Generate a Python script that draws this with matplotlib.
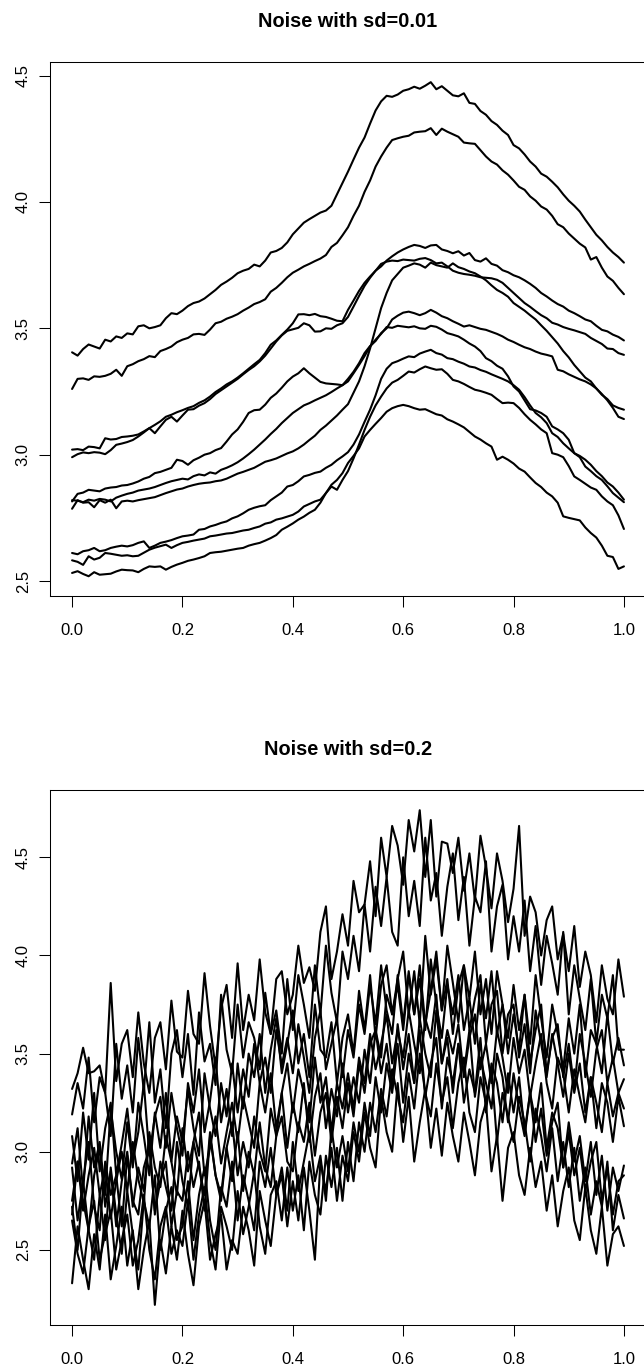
import numpy as np
import matplotlib

matplotlib.use('Agg')
import matplotlib.pyplot as plt

plt.rcParams['font.family'] = ['Liberation Sans', 'DejaVu Sans']

# grid: 101 points on [0, 1]
x_grid = np.arange(101) / 100

x_ticks = [0.0, 0.2, 0.4, 0.6, 0.8, 1.0]
x_labels = ['0.0', '0.2', '0.4', '0.6', '0.8', '1.0']
y_ticks = [2.5, 3.0, 3.5, 4.0, 4.5]
y_labels = ['2.5', '3.0', '3.5', '4.0', '4.5']

titles = ['Noise with sd=0.01', 'Noise with sd=0.2']

# ---- panel 1: sd=0.01 ----
low_a = [3.405, 3.392, 3.418, 3.436, 3.428, 3.420, 3.455, 3.448, 3.468, 3.462,
         3.480, 3.476, 3.508, 3.512, 3.500, 3.505, 3.512, 3.540, 3.560, 3.556,
         3.570, 3.588, 3.600, 3.606, 3.618, 3.635, 3.652, 3.672, 3.685, 3.700,
         3.718, 3.728, 3.735, 3.752, 3.745, 3.768, 3.800, 3.806, 3.818, 3.840,
         3.872, 3.895, 3.918, 3.932, 3.945, 3.958, 3.966, 3.985, 4.030, 4.075,
         4.120, 4.168, 4.215, 4.255, 4.310, 4.362, 4.398, 4.420, 4.416, 4.425,
         4.440, 4.446, 4.456, 4.448, 4.460, 4.474, 4.446, 4.458, 4.440, 4.422,
         4.418, 4.430, 4.392, 4.388, 4.360, 4.345, 4.320, 4.305, 4.282, 4.265,
         4.225, 4.212, 4.188, 4.160, 4.140, 4.112, 4.100, 4.080, 4.058, 4.030,
         4.005, 3.985, 3.962, 3.930, 3.900, 3.870, 3.848, 3.822, 3.800, 3.782,
         3.760]
low_b = [3.260, 3.300, 3.302, 3.296, 3.310, 3.308, 3.312, 3.320, 3.336, 3.312,
         3.350, 3.358, 3.370, 3.378, 3.390, 3.386, 3.410, 3.418, 3.428, 3.445,
         3.455, 3.462, 3.476, 3.478, 3.474, 3.495, 3.520, 3.526, 3.538, 3.546,
         3.556, 3.570, 3.582, 3.596, 3.604, 3.615, 3.645, 3.660, 3.680, 3.702,
         3.720, 3.732, 3.745, 3.755, 3.766, 3.776, 3.790, 3.822, 3.838, 3.868,
         3.900, 3.945, 3.985, 4.040, 4.085, 4.140, 4.180, 4.215, 4.245, 4.252,
         4.258, 4.262, 4.275, 4.278, 4.280, 4.292, 4.265, 4.290, 4.278, 4.268,
         4.258, 4.235, 4.232, 4.230, 4.205, 4.180, 4.160, 4.148, 4.125, 4.108,
         4.085, 4.060, 4.048, 4.022, 4.005, 3.982, 3.970, 3.945, 3.912, 3.900,
         3.875, 3.855, 3.835, 3.820, 3.772, 3.782, 3.740, 3.705, 3.688, 3.660,
         3.635]
low_c = [3.020, 3.022, 3.018, 3.032, 3.030, 3.025, 3.065, 3.060, 3.062, 3.070,
         3.072, 3.075, 3.080, 3.092, 3.105, 3.118, 3.132, 3.150, 3.158, 3.168,
         3.176, 3.185, 3.192, 3.205, 3.215, 3.230, 3.248, 3.262, 3.278, 3.290,
         3.305, 3.322, 3.340, 3.358, 3.375, 3.402, 3.435, 3.452, 3.474, 3.495,
         3.520, 3.555, 3.556, 3.552, 3.557, 3.548, 3.545, 3.538, 3.530, 3.528,
         3.573, 3.610, 3.648, 3.680, 3.705, 3.728, 3.745, 3.768, 3.785, 3.800,
         3.812, 3.822, 3.830, 3.826, 3.818, 3.828, 3.830, 3.812, 3.806, 3.797,
         3.805, 3.788, 3.798, 3.770, 3.764, 3.777, 3.755, 3.748, 3.730, 3.722,
         3.710, 3.702, 3.690, 3.676, 3.660, 3.640, 3.626, 3.610, 3.596, 3.586,
         3.570, 3.560, 3.548, 3.535, 3.528, 3.510, 3.494, 3.488, 3.475, 3.466,
         3.452]
low_d = [2.990, 3.002, 3.009, 3.006, 3.010, 3.008, 3.002, 3.018, 3.039, 3.044,
         3.050, 3.058, 3.072, 3.088, 3.105, 3.085, 3.112, 3.138, 3.150, 3.131,
         3.155, 3.178, 3.180, 3.194, 3.204, 3.220, 3.240, 3.255, 3.270, 3.285,
         3.300, 3.318, 3.335, 3.350, 3.369, 3.392, 3.420, 3.448, 3.472, 3.490,
         3.496, 3.502, 3.520, 3.512, 3.487, 3.488, 3.500, 3.498, 3.512, 3.520,
         3.545, 3.586, 3.628, 3.668, 3.700, 3.728, 3.755, 3.764, 3.768, 3.766,
         3.772, 3.770, 3.768, 3.775, 3.778, 3.770, 3.757, 3.760, 3.745, 3.728,
         3.720, 3.715, 3.712, 3.708, 3.702, 3.700, 3.698, 3.692, 3.680, 3.660,
         3.640, 3.620, 3.600, 3.585, 3.568, 3.552, 3.540, 3.522, 3.515, 3.505,
         3.498, 3.492, 3.485, 3.478, 3.462, 3.450, 3.438, 3.420, 3.418, 3.402,
         3.395]
low_e = [2.815, 2.845, 2.850, 2.861, 2.858, 2.855, 2.866, 2.870, 2.872, 2.878,
         2.880, 2.886, 2.894, 2.905, 2.912, 2.927, 2.932, 2.940, 2.948, 2.980,
         2.975, 2.960, 2.978, 2.988, 3.000, 3.006, 3.018, 3.026, 3.052, 3.080,
         3.100, 3.130, 3.165, 3.176, 3.178, 3.198, 3.225, 3.242, 3.265, 3.290,
         3.309, 3.322, 3.342, 3.322, 3.305, 3.288, 3.282, 3.280, 3.278, 3.275,
         3.300, 3.328, 3.362, 3.402, 3.430, 3.450, 3.481, 3.500, 3.535, 3.550,
         3.562, 3.566, 3.560, 3.552, 3.560, 3.573, 3.562, 3.548, 3.540, 3.528,
         3.518, 3.507, 3.512, 3.505, 3.498, 3.494, 3.486, 3.478, 3.468, 3.455,
         3.446, 3.435, 3.425, 3.418, 3.408, 3.400, 3.395, 3.389, 3.336, 3.330,
         3.318, 3.308, 3.298, 3.290, 3.278, 3.262, 3.237, 3.220, 3.195, 3.185,
         3.178]
low_f = [2.820, 2.818, 2.812, 2.822, 2.818, 2.825, 2.822, 2.815, 2.830, 2.838,
         2.845, 2.850, 2.858, 2.862, 2.866, 2.872, 2.880, 2.888, 2.895, 2.900,
         2.905, 2.902, 2.915, 2.922, 2.918, 2.930, 2.925, 2.940, 2.948, 2.958,
         2.970, 2.985, 3.002, 3.020, 3.040, 3.060, 3.082, 3.102, 3.125, 3.145,
         3.165, 3.180, 3.195, 3.204, 3.215, 3.225, 3.235, 3.248, 3.262, 3.275,
         3.290, 3.322, 3.355, 3.390, 3.428, 3.455, 3.478, 3.505, 3.502, 3.510,
         3.507, 3.504, 3.508, 3.500, 3.498, 3.510, 3.506, 3.495, 3.481, 3.475,
         3.468, 3.455, 3.440, 3.428, 3.410, 3.382, 3.370, 3.352, 3.340, 3.310,
         3.270, 3.250, 3.215, 3.180, 3.175, 3.165, 3.150, 3.112, 3.100, 3.085,
         3.059, 3.006, 2.995, 2.980, 2.960, 2.935, 2.915, 2.890, 2.874, 2.850,
         2.822]
low_g = [2.786, 2.820, 2.810, 2.812, 2.792, 2.820, 2.810, 2.822, 2.788, 2.815,
         2.818, 2.815, 2.820, 2.824, 2.828, 2.832, 2.840, 2.848, 2.855, 2.862,
         2.866, 2.874, 2.880, 2.885, 2.888, 2.890, 2.895, 2.898, 2.905, 2.915,
         2.925, 2.932, 2.940, 2.948, 2.960, 2.972, 2.978, 2.985, 2.995, 3.005,
         3.013, 3.025, 3.040, 3.058, 3.075, 3.098, 3.115, 3.135, 3.155, 3.178,
         3.200, 3.245, 3.290, 3.350, 3.420, 3.500, 3.580, 3.640, 3.690, 3.715,
         3.740, 3.748, 3.757, 3.752, 3.740, 3.760, 3.750, 3.745, 3.740, 3.757,
         3.742, 3.735, 3.725, 3.718, 3.705, 3.690, 3.670, 3.652, 3.640, 3.625,
         3.600, 3.585, 3.570, 3.552, 3.535, 3.512, 3.490, 3.465, 3.440, 3.410,
         3.385, 3.355, 3.330, 3.305, 3.290, 3.262, 3.240, 3.215, 3.185, 3.150,
         3.141]
low_h = [2.611, 2.606, 2.618, 2.622, 2.631, 2.618, 2.622, 2.631, 2.636, 2.640,
         2.637, 2.642, 2.651, 2.657, 2.631, 2.640, 2.651, 2.656, 2.662, 2.670,
         2.677, 2.680, 2.684, 2.703, 2.706, 2.716, 2.722, 2.730, 2.736, 2.748,
         2.756, 2.768, 2.782, 2.790, 2.796, 2.800, 2.820, 2.835, 2.850, 2.874,
         2.880, 2.895, 2.914, 2.920, 2.928, 2.933, 2.948, 2.960, 2.978, 2.993,
         3.010, 3.040, 3.080, 3.130, 3.178, 3.235, 3.300, 3.340, 3.362, 3.370,
         3.380, 3.389, 3.386, 3.400, 3.408, 3.415, 3.402, 3.396, 3.382, 3.378,
         3.368, 3.360, 3.349, 3.345, 3.335, 3.328, 3.318, 3.309, 3.300, 3.290,
         3.275, 3.257, 3.228, 3.195, 3.165, 3.148, 3.125, 3.085, 3.070, 3.045,
         3.025, 3.006, 2.990, 2.953, 2.935, 2.915, 2.900, 2.875, 2.848, 2.830,
         2.812]
low_i = [2.582, 2.576, 2.564, 2.598, 2.585, 2.592, 2.611, 2.608, 2.604, 2.600,
         2.602, 2.598, 2.600, 2.612, 2.624, 2.632, 2.638, 2.644, 2.631, 2.642,
         2.651, 2.655, 2.660, 2.664, 2.668, 2.677, 2.680, 2.684, 2.688, 2.690,
         2.695, 2.700, 2.703, 2.710, 2.716, 2.727, 2.732, 2.743, 2.748, 2.755,
         2.762, 2.775, 2.795, 2.805, 2.815, 2.822, 2.848, 2.874, 2.861, 2.900,
         2.935, 2.985, 3.040, 3.098, 3.150, 3.195, 3.230, 3.262, 3.285, 3.296,
         3.312, 3.329, 3.325, 3.338, 3.349, 3.342, 3.336, 3.338, 3.320, 3.296,
         3.290, 3.280, 3.268, 3.257, 3.252, 3.245, 3.237, 3.220, 3.204, 3.206,
         3.204, 3.185, 3.160, 3.138, 3.120, 3.100, 3.085, 3.006, 3.000, 2.990,
         2.955, 2.914, 2.900, 2.885, 2.870, 2.861, 2.835, 2.815, 2.800, 2.760,
         2.706]
low_j = [2.532, 2.539, 2.528, 2.519, 2.535, 2.525, 2.527, 2.529, 2.538, 2.545,
         2.543, 2.542, 2.535, 2.548, 2.558, 2.556, 2.558, 2.545, 2.556, 2.565,
         2.572, 2.580, 2.585, 2.591, 2.598, 2.611, 2.614, 2.616, 2.620, 2.624,
         2.628, 2.631, 2.640, 2.646, 2.651, 2.660, 2.670, 2.682, 2.703, 2.715,
         2.728, 2.743, 2.755, 2.770, 2.782, 2.810, 2.848, 2.881, 2.900, 2.927,
         2.967, 2.995, 3.025, 3.072, 3.098, 3.122, 3.145, 3.170, 3.184, 3.192,
         3.197, 3.192, 3.184, 3.178, 3.180, 3.170, 3.160, 3.155, 3.140, 3.131,
         3.120, 3.108, 3.090, 3.072, 3.060, 3.045, 3.032, 2.980, 2.992, 2.980,
         2.965, 2.945, 2.933, 2.910, 2.888, 2.872, 2.850, 2.835, 2.810, 2.756,
         2.750, 2.745, 2.740, 2.712, 2.690, 2.672, 2.640, 2.600, 2.595, 2.548,
         2.558]

# ---- panel 2: sd=0.2 ----
high_a = [3.32, 3.40, 3.53, 3.40, 3.41, 3.44, 3.30, 3.86, 3.36, 3.55,
          3.62, 3.38, 3.71, 3.45, 3.30, 3.58, 3.66, 3.42, 3.77, 3.51,
          3.48, 3.82, 3.60, 3.55, 3.91, 3.64, 3.43, 3.73, 3.85, 3.58,
          3.96, 3.62, 3.80, 3.67, 3.98, 3.71, 3.60, 3.88, 3.92, 3.70,
          3.80, 4.05, 3.86, 3.94, 3.82, 4.12, 4.25, 3.88, 4.02, 4.21,
          4.05, 4.38, 4.22, 4.26, 4.48, 4.20, 4.60, 4.40, 4.66, 4.56,
          4.36, 4.69, 4.53, 4.74, 4.40, 4.69, 4.30, 4.58, 4.57, 4.42,
          4.60, 4.33, 4.52, 4.28, 4.61, 4.45, 4.24, 4.52, 4.38, 4.17,
          4.34, 4.66, 4.10, 4.30, 4.22, 4.00, 4.18, 4.25, 3.98, 4.11,
          3.92, 4.15, 3.84, 4.02, 3.90, 3.66, 3.95, 3.78, 3.70, 3.98,
          3.79]
high_b = [3.19, 3.35, 3.22, 3.48, 3.15, 3.38, 3.30, 3.08, 3.55, 3.27,
          3.44, 3.20, 3.58, 3.31, 3.66, 3.25, 3.42, 3.12, 3.50, 3.62,
          3.38, 3.60, 3.29, 3.71, 3.46, 3.55, 3.34, 3.80, 3.52, 3.40,
          3.75, 3.48, 3.66, 3.58, 3.42, 3.81, 3.60, 3.72, 3.50, 3.88,
          3.62, 3.90, 3.75, 3.58, 3.95, 3.70, 4.05, 3.81, 3.66, 4.02,
          3.88, 4.10, 3.92, 4.26, 4.02, 4.35, 4.15, 4.40, 4.12, 4.05,
          4.50, 4.20, 4.38, 4.15, 4.60, 4.28, 4.42, 4.10, 4.35, 4.52,
          4.18, 4.40, 4.05, 4.30, 4.22, 4.48, 4.02, 4.25, 4.36, 3.98,
          4.20, 4.02, 4.28, 3.92, 4.15, 3.85, 4.10, 3.96, 3.80, 4.12,
          3.70, 3.95, 3.78, 3.62, 3.88, 3.55, 3.80, 3.68, 3.90, 3.52,
          3.52]
high_c = [3.08, 2.85, 3.20, 2.96, 3.30, 2.90, 3.12, 3.25, 2.88, 3.04,
          3.22, 2.95, 3.10, 3.35, 2.98, 3.18, 3.28, 3.02, 3.30, 3.12,
          2.98, 3.35, 3.20, 3.42, 3.10, 3.26, 3.48, 3.15, 3.32, 3.08,
          3.45, 3.22, 3.50, 3.38, 3.60, 3.30, 3.52, 3.68, 3.40, 3.55,
          3.72, 3.45, 3.60, 3.38, 3.75, 3.52, 3.48, 3.66, 3.35, 3.58,
          3.70, 3.50, 3.82, 3.62, 3.90, 3.58, 3.85, 3.95, 3.70, 3.88,
          4.02, 3.70, 3.92, 3.65, 4.10, 3.80, 3.98, 3.72, 4.05, 3.86,
          3.66, 3.95, 3.78, 4.02, 3.70, 3.88, 3.60, 3.92, 3.75, 3.58,
          3.85, 3.62, 3.80, 3.55, 3.90, 3.68, 3.48, 3.75, 3.60, 3.42,
          3.68, 3.50, 3.75, 3.38, 3.62, 3.55, 3.40, 3.70, 3.45, 3.58,
          3.44]
high_d = [2.94, 3.12, 2.80, 3.18, 2.92, 3.05, 2.78, 3.22, 3.00, 2.86,
          3.15, 2.92, 3.25, 3.08, 2.88, 3.20, 3.02, 3.30, 2.95, 3.18,
          3.05, 3.32, 3.12, 2.98, 3.40, 3.22, 3.08, 3.35, 3.18, 3.45,
          3.20, 3.42, 3.28, 3.55, 3.35, 3.48, 3.30, 3.62, 3.44, 3.58,
          3.40, 3.65, 3.48, 3.30, 3.58, 3.72, 3.42, 3.55, 3.68, 3.38,
          3.62, 3.48, 3.75, 3.60, 3.85, 3.65, 3.95, 3.72, 3.60, 3.90,
          3.65, 3.92, 3.70, 3.88, 3.62, 3.98, 3.75, 3.58, 3.85, 3.70,
          3.90, 3.62, 3.78, 3.55, 3.85, 3.68, 3.92, 3.60, 3.75, 3.50,
          3.70, 3.52, 3.80, 3.45, 3.62, 3.75, 3.40, 3.58, 3.65, 3.38,
          3.55, 3.32, 3.60, 3.45, 3.28, 3.52, 3.62, 3.35, 3.48, 3.30,
          3.37]
high_e = [2.75, 2.95, 2.70, 2.88, 3.02, 2.78, 2.92, 2.66, 2.85, 3.00,
          2.80, 3.05, 2.86, 2.74, 3.10, 2.92, 2.82, 3.08, 2.95, 2.78,
          3.12, 2.90, 3.05, 3.20, 2.88, 3.02, 3.18, 2.94, 3.10, 3.25,
          3.05, 3.28, 3.15, 3.02, 3.35, 3.20, 3.40, 3.12, 3.30, 3.45,
          3.20, 3.42, 3.30, 3.15, 3.48, 3.25, 3.38, 3.10, 3.35, 3.22,
          3.40, 3.22, 3.48, 3.35, 3.60, 3.42, 3.55, 3.70, 3.45, 3.62,
          3.48, 3.72, 3.55, 3.40, 3.68, 3.58, 3.80, 3.45, 3.62, 3.50,
          3.65, 3.38, 3.58, 3.70, 3.42, 3.55, 3.35, 3.62, 3.48, 3.30,
          3.58, 3.40, 3.52, 3.28, 3.45, 3.60, 3.35, 3.22, 3.48, 3.40,
          3.20, 3.42, 3.28, 3.15, 3.38, 3.25, 3.10, 3.35, 3.18, 3.30,
          3.22]
high_f = [2.68, 2.95, 2.75, 2.60, 2.88, 3.02, 2.72, 2.90, 2.62, 2.85,
          3.00, 2.72, 2.92, 2.80, 3.08, 2.68, 2.95, 2.82, 2.70, 3.05,
          2.85, 2.72, 3.05, 2.92, 2.78, 3.10, 2.88, 2.75, 3.02, 3.15,
          2.88, 3.05, 2.92, 3.18, 3.00, 2.90, 3.22, 3.08, 3.30, 3.02,
          3.25, 3.10, 3.35, 3.05, 3.28, 3.40, 3.12, 3.32, 3.18, 3.45,
          3.20, 3.38, 3.25, 3.52, 3.35, 3.62, 3.40, 3.55, 3.32, 3.65,
          3.42, 3.60, 3.35, 3.68, 3.50, 3.38, 3.72, 3.45, 3.58, 3.30,
          3.55, 3.40, 3.62, 3.28, 3.48, 3.35, 3.22, 3.50, 3.38, 3.15,
          3.40, 3.22, 3.08, 3.30, 3.15, 3.35, 3.02, 3.20, 3.12, 2.92,
          3.15, 2.95, 3.08, 2.85, 3.05, 2.78, 2.98, 2.70, 2.92, 2.80,
          2.93]
high_g = [2.92, 2.65, 2.85, 3.05, 2.72, 2.60, 2.95, 2.78, 2.88, 2.62,
          2.98, 2.75, 2.68, 2.92, 3.02, 2.70, 2.85, 2.95, 2.62, 2.80,
          2.75, 3.00, 2.82, 2.95, 2.70, 3.08, 2.88, 2.78, 3.02, 2.85,
          3.10, 2.80, 3.00, 2.88, 3.15, 2.92, 2.82, 3.08, 3.18, 2.95,
          2.90, 3.15, 3.05, 3.25, 2.98, 3.20, 3.30, 3.05, 3.28, 3.12,
          3.35, 3.18, 3.45, 3.30, 3.55, 3.62, 3.48, 3.80, 3.70, 3.85,
          3.62, 3.90, 3.70, 3.95, 3.65, 3.82, 4.02, 3.72, 3.88, 3.60,
          3.85, 3.95, 3.62, 3.78, 3.90, 3.55, 3.75, 3.82, 3.50, 3.70,
          3.75, 3.48, 3.65, 3.40, 3.72, 3.55, 3.38, 3.60, 3.45, 3.28,
          3.50, 3.30, 3.45, 3.20, 3.38, 3.12, 3.35, 3.25, 3.05, 3.28,
          3.13]
high_h = [2.72, 2.50, 2.85, 2.60, 2.45, 2.78, 2.55, 2.92, 2.68, 2.48,
          2.80, 2.58, 2.40, 2.75, 2.62, 2.88, 2.50, 2.70, 2.82, 2.55,
          2.62, 2.85, 2.55, 2.78, 2.92, 2.65, 2.50, 2.82, 2.72, 2.95,
          2.65, 2.88, 2.75, 2.60, 2.95, 2.82, 3.02, 2.78, 2.92, 2.70,
          3.05, 2.80, 2.95, 3.10, 2.85, 2.98, 2.75, 3.12, 2.92, 3.08,
          2.90, 3.15, 3.00, 3.25, 3.08, 3.38, 3.20, 3.45, 3.30, 3.55,
          3.25, 3.50, 3.35, 3.62, 3.28, 3.45, 3.58, 3.22, 3.48, 3.35,
          3.55, 3.25, 3.42, 3.30, 3.58, 3.20, 3.45, 3.35, 3.15, 3.40,
          3.20, 3.38, 3.10, 3.30, 3.05, 3.22, 2.98, 3.15, 3.25, 2.92,
          3.10, 2.88, 3.02, 2.80, 2.95, 3.05, 2.75, 2.92, 2.68, 2.85,
          2.88]
high_i = [2.65, 2.48, 2.38, 2.62, 2.75, 2.45, 2.58, 2.70, 2.40, 2.55,
          2.68, 2.42, 2.55, 2.78, 2.50, 2.35, 2.62, 2.72, 2.48, 2.60,
          2.52, 2.75, 2.45, 2.68, 2.82, 2.55, 2.40, 2.72, 2.62, 2.50,
          2.80, 2.58, 2.72, 2.90, 2.62, 2.48, 2.78, 2.85, 2.65, 2.92,
          2.70, 2.88, 2.60, 2.95, 2.78, 2.68, 2.98, 2.82, 3.02, 2.75,
          3.05, 2.85, 3.15, 3.00, 3.25, 3.10, 3.32, 3.18, 3.42, 3.28,
          3.15, 3.40, 3.22, 3.50, 3.30, 3.18, 3.45, 3.25, 3.38, 3.12,
          3.35, 3.48, 3.20, 3.10, 3.38, 3.25, 3.42, 3.05, 3.30, 3.18,
          3.05, 3.28, 3.15, 2.95, 3.22, 3.08, 2.90, 3.12, 2.85, 3.05,
          2.82, 3.02, 2.75, 2.92, 2.68, 2.85, 2.72, 2.95, 2.60, 2.78,
          2.66]
high_j = [2.33, 2.62, 2.45, 2.30, 2.58, 2.40, 2.68, 2.35, 2.52, 2.72,
          2.42, 2.60, 2.30, 2.50, 2.65, 2.22, 2.55, 2.38, 2.62, 2.45,
          2.70, 2.48, 2.32, 2.62, 2.75, 2.45, 2.58, 2.68, 2.40, 2.55,
          2.48, 2.72, 2.60, 2.42, 2.80, 2.65, 2.52, 2.78, 2.88, 2.62,
          2.85, 2.65, 2.92, 2.70, 2.45, 2.95, 2.80, 3.02, 2.75, 2.98,
          2.85, 3.10, 2.95, 3.20, 3.02, 2.92, 3.28, 3.10, 3.00, 3.35,
          3.05, 3.28, 2.95, 3.15, 3.32, 3.02, 3.22, 2.98, 3.25, 3.08,
          2.95, 3.20, 3.05, 2.88, 3.15, 3.25, 2.90, 3.08, 2.75, 3.02,
          3.10, 2.88, 2.78, 3.02, 2.82, 2.95, 2.70, 2.88, 2.62, 2.80,
          2.92, 2.65, 2.55, 2.82, 2.60, 2.48, 2.72, 2.42, 2.58, 2.62,
          2.52]

panels = [
    ([low_a, low_b, low_c, low_d, low_e, low_f, low_g, low_h, low_i, low_j], (2.442, 4.555)),
    ([high_a, high_b, high_c, high_d, high_e, high_f, high_g, high_h, high_i, high_j], (2.120, 4.843)),
]

W, H = 644, 1369
fig = plt.figure(figsize=(W / 100, H / 100), dpi=100)

# axes boxes in pixels: (left, top, right, bottom)
boxes = [(50, 61.7, 646, 595.7), (50, 790, 646, 1324.5)]
title_base = [27.3, 755]

for (series, ylim), (l, t, r, b), tb, title in zip(panels, boxes, title_base, titles):
    ax = fig.add_axes([l / W, 1 - b / H, (r - l) / W, (b - t) / H])
    for s in series:
        ax.plot(x_grid, s, color='black', lw=1.5,
                solid_joinstyle='round', solid_capstyle='round')
    ax.set_xlim(-0.04, 1.04)
    ax.set_ylim(*ylim)
    ax.set_xticks(x_ticks)
    ax.set_xticklabels(x_labels)
    ax.set_yticks(y_ticks)
    ax.set_yticklabels(y_labels, rotation=90, va='center')
    ax.tick_params(direction='out', length=7.6, width=0.75, labelsize=12, colors='black')
    ax.tick_params(axis='x', pad=12.2)
    ax.tick_params(axis='y', pad=6.3)
    for sp in ax.spines.values():
        sp.set_linewidth(0.75)
        sp.set_color('black')
    fig.text((l + r) / 2 / W, 1 - tb / H, title, ha='center', va='baseline',
             fontsize=14.4, fontweight='bold')

fig.savefig('out.png', dpi=100)
